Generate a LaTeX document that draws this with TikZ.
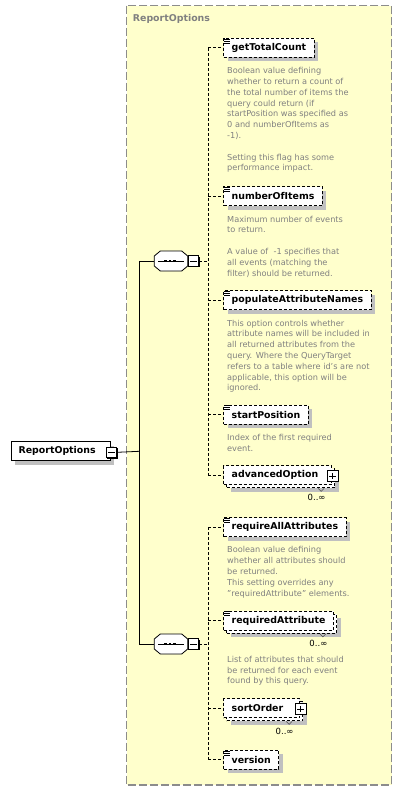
\documentclass[tikz,border=0pt]{standalone}
\usepackage{fontspec}
\setmainfont{DejaVu Sans}
\usetikzlibrary{shadows,positioning}
\definecolor{groupfill}{HTML}{FFFFCC}
\definecolor{groupline}{HTML}{8C8C8C}
\definecolor{notegray}{HTML}{808080}
\definecolor{shadowgray}{HTML}{C0C0C0}

\begin{document}
\begin{tikzpicture}[
  x=1pt,y=-1pt,
  group/.style={draw=groupline,line width=1.2pt,dash pattern=on 8pt off 3pt,fill=groupfill},
  grouptitle/.style={font=\bfseries\fontsize{9.4}{11}\selectfont,text=notegray,inner sep=0pt,anchor=west},
  root/.style={draw=black,line width=0.8pt,fill=white,font=\bfseries\fontsize{9.4}{11}\selectfont,
    inner xsep=7.5pt,inner ysep=0pt,minimum height=19pt,anchor=west,align=left,
    drop shadow={shadow xshift=4pt,shadow yshift=-4pt,fill=shadowgray,opacity=1}},
  elem/.style={root,inner xsep=8pt,dash pattern=on 3pt off 2pt},
  multi/.style={draw=black,line width=0.8pt,fill=white,font=\bfseries\fontsize{9.4}{11}\selectfont,
    inner xsep=8pt,inner ysep=0pt,minimum height=19pt,anchor=west,align=left,dash pattern=on 3pt off 2pt,
    general shadow={shadow xshift=7pt,shadow yshift=-7pt,fill=shadowgray},
    general shadow={shadow xshift=3pt,shadow yshift=-3pt,fill=white,draw=black,line width=0.8pt,dash pattern=on 3pt off 2pt}},
  note/.style={font=\fontsize{8.2}{10.8}\selectfont,text=notegray,align=left,inner sep=0pt,anchor=north west},
  occurs/.style={font=\fontsize{8.5}{10}\selectfont,inner sep=0pt},
  occline/.style={draw=black!70,line width=0.6pt},
  seq/.style={rectangle,minimum width=33.4pt,minimum height=20pt,inner sep=0pt,outer sep=0pt},
  seqline/.style={draw=black,line width=0.8pt,fill=white},
  btn/.style={draw=black,line width=0.7pt,fill=white,minimum width=10.5pt,minimum height=10.5pt,inner sep=0pt,
    general shadow={shadow xshift=1pt,shadow yshift=-1pt,fill=black}},
  collapse/.style={btn,path picture={\draw[line width=0.7pt] ([xshift=2pt]path picture bounding box.west) -- ([xshift=-2pt]path picture bounding box.east);}},
  expand/.style={btn,path picture={\draw[line width=0.7pt] ([xshift=2pt]path picture bounding box.west) -- ([xshift=-2pt]path picture bounding box.east);
    \draw[line width=0.7pt] ([yshift=-2pt]path picture bounding box.north) -- ([yshift=2pt]path picture bounding box.south);}},
  link/.style={draw=black,line width=0.8pt},
  optlink/.style={link,dash pattern=on 3pt off 2pt},
  icon/.style={draw=black,line width=0.6pt}
]
\useasboundingbox (0,0) rectangle (402,791);
\fill[white] (0,0) rectangle (402,791);

% complex type frame
\path[group] (126.7,5.7) rectangle (391.7,785);
\node[grouptitle] (title) at (132.7,19) {ReportOptions};

% root element and the two sequences
\node[root,text width=84pt] (rpt) at (10.7,451.3) {ReportOptions};
\node[collapse] (rptbtn) at ([xshift=1pt,yshift=-1pt]rpt.east) {};
\node[seq] (seqA) at (171,261) {};
\node[seq] (seqB) at (171,644) {};
\foreach \s in {seqA,seqB} {
  \fill[shadowgray,shift={(4,4)}] ([yshift=5pt]\s.west) -- ([xshift=6pt]\s.north west) -- ([xshift=-6pt]\s.north east)
    -- ([yshift=5pt]\s.east) -- ([yshift=-5pt]\s.east) -- ([xshift=-6pt]\s.south east)
    -- ([xshift=6pt]\s.south west) -- ([yshift=-5pt]\s.west) -- cycle;
  \path[seqline] ([yshift=5pt]\s.west) -- ([xshift=6pt]\s.north west) -- ([xshift=-6pt]\s.north east)
    -- ([yshift=5pt]\s.east) -- ([yshift=-5pt]\s.east) -- ([xshift=-6pt]\s.south east)
    -- ([xshift=6pt]\s.south west) -- ([yshift=-5pt]\s.west) -- cycle;
  \draw[link] ([xshift=4pt]\s.west) -- ([xshift=-4pt]\s.east);
  \foreach \dx in {-5.5,-1,3.5}
    \fill ([xshift=\dx pt]\s.center) +(-1.3,-1.3) rectangle +(1.3,1.3);
}
\node[collapse,right=0pt of seqA] (seqAbtn) {};
\node[collapse,right=0pt of seqB] (seqBbtn) {};

% first sequence
\node[elem] (gtc) at (223.3,47.8) {getTotalCount};
\node[note] (gtcnote) at ([xshift=3.7pt,yshift=-9.5pt]gtc.south west) {Boolean value defining\\
  whether to return a count of\\the total number of items the\\query could return (if\\
  startPosition was specified as\\0 and numberOfItems as\\-1).\\[10.8pt]
  Setting this flag has some\\performance impact.};
\node[elem] (noi) at (223.3,196.2) {numberOfItems};
\node[note] (noinote) at ([xshift=3.7pt,yshift=-9.5pt]noi.south west) {Maximum number of events\\
  to return.\\[10.8pt]A value of~ -1 specifies that\\all events (matching the\\filter) should be returned.};
\node[elem] (pan) at (223.3,300.2) {populateAttributeNames};
\node[note] (pannote) at ([xshift=3.7pt,yshift=-9.5pt]pan.south west) {This option controls whether\\
  attribute names will be included in\\all returned attributes from the\\query. Where the QueryTarget\\
  refers to a table where id's are not\\applicable, this option will be\\ignored.};
\node[elem] (stp) at (223.3,414.5) {startPosition};
\node[note] (stpnote) at ([xshift=3.7pt,yshift=-9.5pt]stp.south west) {Index of the first required\\event.};
\node[multi,text width=92pt] (adv) at (223.3,475) {advancedOption};
\node[expand] (advbtn) at ([xshift=0.5pt,yshift=-1pt]adv.east) {};
\node[occurs] (advocc) at ([xshift=-15.5pt,yshift=-13pt]adv.south east) {0..∞};

% second sequence
\node[elem] (raa) at (223.3,527) {requireAllAttributes};
\node[note] (raanote) at ([xshift=3.7pt,yshift=-9.5pt]raa.south west) {Boolean value defining\\
  whether all attributes should\\be returned.\\This setting overrides any\\"requiredAttribute" elements.};
\node[multi] (rqa) at (223.3,620.5) {requiredAttribute};
\node[occurs] (rqaocc) at ([xshift=-15.5pt,yshift=-13pt]rqa.south east) {0..∞};
\node[note] (rqanote) at ([xshift=3.7pt,yshift=-25.5pt]rqa.south west) {List of attributes that should\\
  be returned for each event\\found by this query.};
\node[multi,text width=60pt] (sort) at (223.3,708) {sortOrder};
\node[expand] (sortbtn) at ([xshift=0.5pt,yshift=-1pt]sort.east) {};
\node[occurs] (sortocc) at ([xshift=-15.5pt,yshift=-13pt]sort.south east) {0..∞};
\node[elem] (ver) at (223.3,759.7) {version};

% small occurrence ticks under the stacked boxes
\foreach \n in {adv,rqa,sort}
  \draw[occline] ([xshift=-14pt,yshift=-3.5pt]\n.south east) -- ++(3,3) -- ++(3,-3);

% simple type icons
\foreach \n in {gtc,noi,pan,stp,raa,rqa,ver}
  \foreach \k in {1,3,5}
    \draw[icon] ([xshift=1pt,yshift=-\k pt]\n.north west) -- ++(6,0);

% connectors
\coordinate (trunk) at (139.3,451.3);
\draw[link] (rptbtn.east) -- (trunk);
\draw[link] (trunk |- seqA.west) -- (trunk |- seqB.west);
\draw[link] (trunk |- seqA.west) -- (seqA.west);
\draw[link] (trunk |- seqB.west) -- (seqB.west);

\coordinate (busA) at (208.3,261);
\draw[optlink] (seqAbtn.east) -- (busA);
\draw[optlink] (busA |- gtc.west) -- (busA |- adv.west);
\foreach \n in {gtc,noi,pan,stp,adv}
  \draw[optlink] (busA |- \n.west) -- (\n.west);

\coordinate (busB) at (208.3,644);
\draw[optlink] (seqBbtn.east) -- (busB);
\draw[optlink] (busB |- raa.west) -- (busB |- ver.west);
\foreach \n in {raa,rqa,sort,ver}
  \draw[optlink] (busB |- \n.west) -- (\n.west);
\end{tikzpicture}
\end{document}
